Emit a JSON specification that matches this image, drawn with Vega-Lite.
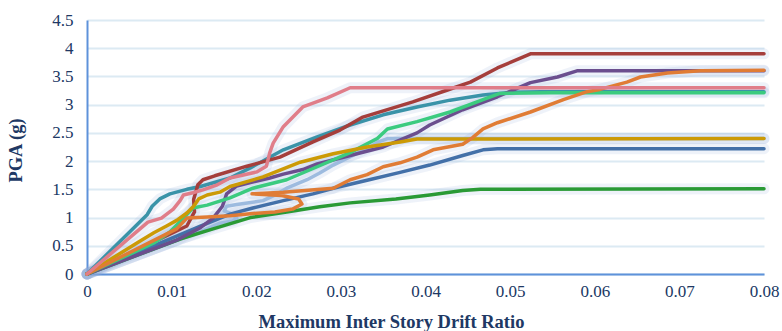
{
  "$schema": "https://vega.github.io/schema/vega-lite/v6.json",
  "width": 677,
  "height": 254,
  "autosize": {"type": "none"},
  "padding": {"left": 87, "top": 20, "right": 18, "bottom": 57},
  "background": "white",
  "config": {"view": {"stroke": null}, "font": "Liberation Serif"},
  "datasets": {
    "curves": [
      {"s":"J","o":0,"x":0,"y":0},{"s":"J","o":1,"x":0.0134,"y":0.75},{"s":"J","o":2,"x":0.0157,"y":0.9},{"s":"J","o":3,"x":0.0172,"y":0.94},{"s":"J","o":4,"x":0.0177,"y":0.99},{"s":"J","o":5,"x":0.0172,"y":1.06},{"s":"J","o":6,"x":0.0162,"y":1.12},{"s":"J","o":7,"x":0.0165,"y":1.2},{"s":"J","o":8,"x":0.0177,"y":1.23},{"s":"J","o":9,"x":0.0208,"y":1.3},{"s":"J","o":10,"x":0.0225,"y":1.42},{"s":"J","o":11,"x":0.0236,"y":1.52},{"s":"J","o":12,"x":0.026,"y":1.67},{"s":"J","o":13,"x":0.0275,"y":1.79},{"s":"J","o":14,"x":0.0291,"y":1.93},{"s":"J","o":15,"x":0.0311,"y":2.08},{"s":"J","o":16,"x":0.0331,"y":2.22},{"s":"J","o":17,"x":0.0343,"y":2.33},{"s":"J","o":18,"x":0.0355,"y":2.4},{"s":"J","o":19,"x":0.08,"y":2.4},
      {"s":"I","o":0,"x":0,"y":0},{"s":"I","o":1,"x":0.011,"y":0.62},{"s":"I","o":2,"x":0.0149,"y":0.8},{"s":"I","o":3,"x":0.0193,"y":1.0},{"s":"I","o":4,"x":0.0236,"y":1.1},{"s":"I","o":5,"x":0.0275,"y":1.19},{"s":"I","o":6,"x":0.0311,"y":1.26},{"s":"I","o":7,"x":0.0365,"y":1.33},{"s":"I","o":8,"x":0.0405,"y":1.4},{"s":"I","o":9,"x":0.0444,"y":1.48},{"s":"I","o":10,"x":0.0465,"y":1.5},{"s":"I","o":11,"x":0.08,"y":1.51},
      {"s":"H","o":0,"x":0,"y":0},{"s":"H","o":1,"x":0.0134,"y":0.85},{"s":"H","o":2,"x":0.0169,"y":1.06},{"s":"H","o":3,"x":0.0196,"y":1.17},{"s":"H","o":4,"x":0.0232,"y":1.3},{"s":"H","o":5,"x":0.0267,"y":1.42},{"s":"H","o":6,"x":0.0291,"y":1.52},{"s":"H","o":7,"x":0.0331,"y":1.66},{"s":"H","o":8,"x":0.037,"y":1.8},{"s":"H","o":9,"x":0.0405,"y":1.93},{"s":"H","o":10,"x":0.0444,"y":2.1},{"s":"H","o":11,"x":0.0468,"y":2.2},{"s":"H","o":12,"x":0.0485,"y":2.22},{"s":"H","o":13,"x":0.08,"y":2.22},
      {"s":"B","o":0,"x":0,"y":0},{"s":"B","o":1,"x":0.0071,"y":1.05},{"s":"B","o":2,"x":0.0077,"y":1.2},{"s":"B","o":3,"x":0.0086,"y":1.33},{"s":"B","o":4,"x":0.0098,"y":1.42},{"s":"B","o":5,"x":0.0118,"y":1.5},{"s":"B","o":6,"x":0.0134,"y":1.55},{"s":"B","o":7,"x":0.0169,"y":1.7},{"s":"B","o":8,"x":0.0193,"y":1.88},{"s":"B","o":9,"x":0.0232,"y":2.2},{"s":"B","o":10,"x":0.0272,"y":2.43},{"s":"B","o":11,"x":0.0311,"y":2.64},{"s":"B","o":12,"x":0.035,"y":2.82},{"s":"B","o":13,"x":0.039,"y":2.96},{"s":"B","o":14,"x":0.0429,"y":3.08},{"s":"B","o":15,"x":0.0468,"y":3.17},{"s":"B","o":16,"x":0.0504,"y":3.22},{"s":"B","o":17,"x":0.0536,"y":3.23},{"s":"B","o":18,"x":0.08,"y":3.23},
      {"s":"F","o":0,"x":0,"y":0},{"s":"F","o":1,"x":0.0106,"y":0.6},{"s":"F","o":2,"x":0.0134,"y":0.82},{"s":"F","o":3,"x":0.0149,"y":0.99},{"s":"F","o":4,"x":0.016,"y":1.2},{"s":"F","o":5,"x":0.0165,"y":1.42},{"s":"F","o":6,"x":0.0177,"y":1.56},{"s":"F","o":7,"x":0.0193,"y":1.62},{"s":"F","o":8,"x":0.0216,"y":1.7},{"s":"F","o":9,"x":0.0232,"y":1.77},{"s":"F","o":10,"x":0.0255,"y":1.85},{"s":"F","o":11,"x":0.0272,"y":1.95},{"s":"F","o":12,"x":0.0311,"y":2.1},{"s":"F","o":13,"x":0.035,"y":2.25},{"s":"F","o":14,"x":0.039,"y":2.5},{"s":"F","o":15,"x":0.0405,"y":2.64},{"s":"F","o":16,"x":0.0444,"y":2.91},{"s":"F","o":17,"x":0.0485,"y":3.14},{"s":"F","o":18,"x":0.0524,"y":3.39},{"s":"F","o":19,"x":0.0556,"y":3.49},{"s":"F","o":20,"x":0.0579,"y":3.6},{"s":"F","o":21,"x":0.08,"y":3.6},
      {"s":"A","o":0,"x":0,"y":0},{"s":"A","o":1,"x":0.0118,"y":0.85},{"s":"A","o":2,"x":0.0127,"y":1.1},{"s":"A","o":3,"x":0.0126,"y":1.32},{"s":"A","o":4,"x":0.0131,"y":1.58},{"s":"A","o":5,"x":0.0137,"y":1.67},{"s":"A","o":6,"x":0.0151,"y":1.74},{"s":"A","o":7,"x":0.0189,"y":1.91},{"s":"A","o":8,"x":0.0228,"y":2.07},{"s":"A","o":9,"x":0.0267,"y":2.34},{"s":"A","o":10,"x":0.0299,"y":2.55},{"s":"A","o":11,"x":0.0326,"y":2.78},{"s":"A","o":12,"x":0.0385,"y":3.05},{"s":"A","o":13,"x":0.0426,"y":3.26},{"s":"A","o":14,"x":0.0453,"y":3.4},{"s":"A","o":15,"x":0.0485,"y":3.65},{"s":"A","o":16,"x":0.0524,"y":3.9},{"s":"A","o":17,"x":0.08,"y":3.9},
      {"s":"E","o":0,"x":0,"y":0},{"s":"E","o":1,"x":0.0079,"y":0.55},{"s":"E","o":2,"x":0.0098,"y":0.745},{"s":"E","o":3,"x":0.0114,"y":0.99},{"s":"E","o":4,"x":0.0125,"y":1.17},{"s":"E","o":5,"x":0.0142,"y":1.22},{"s":"E","o":6,"x":0.0169,"y":1.35},{"s":"E","o":7,"x":0.0196,"y":1.52},{"s":"E","o":8,"x":0.0236,"y":1.67},{"s":"E","o":9,"x":0.0272,"y":1.9},{"s":"E","o":10,"x":0.0311,"y":2.15},{"s":"E","o":11,"x":0.0343,"y":2.4},{"s":"E","o":12,"x":0.0355,"y":2.57},{"s":"E","o":13,"x":0.039,"y":2.7},{"s":"E","o":14,"x":0.0429,"y":2.87},{"s":"E","o":15,"x":0.0468,"y":3.09},{"s":"E","o":16,"x":0.0488,"y":3.2},{"s":"E","o":17,"x":0.0547,"y":3.21},{"s":"E","o":18,"x":0.08,"y":3.21},
      {"s":"D","o":0,"x":0,"y":0},{"s":"D","o":1,"x":0.0059,"y":0.55},{"s":"D","o":2,"x":0.0079,"y":0.73},{"s":"D","o":3,"x":0.0094,"y":0.85},{"s":"D","o":4,"x":0.0106,"y":0.95},{"s":"D","o":5,"x":0.0118,"y":1.08},{"s":"D","o":6,"x":0.0126,"y":1.2},{"s":"D","o":7,"x":0.0132,"y":1.33},{"s":"D","o":8,"x":0.0142,"y":1.4},{"s":"D","o":9,"x":0.0157,"y":1.45},{"s":"D","o":10,"x":0.0169,"y":1.55},{"s":"D","o":11,"x":0.0208,"y":1.72},{"s":"D","o":12,"x":0.0252,"y":1.98},{"s":"D","o":13,"x":0.0291,"y":2.13},{"s":"D","o":14,"x":0.0331,"y":2.25},{"s":"D","o":15,"x":0.037,"y":2.34},{"s":"D","o":16,"x":0.039,"y":2.39},{"s":"D","o":17,"x":0.08,"y":2.4},
      {"s":"G","o":0,"x":0,"y":0},{"s":"G","o":1,"x":0.0106,"y":0.8},{"s":"G","o":2,"x":0.0118,"y":0.99},{"s":"G","o":3,"x":0.0142,"y":1.01},{"s":"G","o":4,"x":0.0169,"y":1.03},{"s":"G","o":5,"x":0.0196,"y":1.07},{"s":"G","o":6,"x":0.0222,"y":1.1},{"s":"G","o":7,"x":0.0243,"y":1.15},{"s":"G","o":8,"x":0.0254,"y":1.24},{"s":"G","o":9,"x":0.025,"y":1.33},{"s":"G","o":10,"x":0.023,"y":1.39},{"s":"G","o":11,"x":0.0195,"y":1.42},{"s":"G","o":12,"x":0.0232,"y":1.45},{"s":"G","o":13,"x":0.0291,"y":1.52},{"s":"G","o":14,"x":0.0311,"y":1.67},{"s":"G","o":15,"x":0.0331,"y":1.76},{"s":"G","o":16,"x":0.035,"y":1.9},{"s":"G","o":17,"x":0.037,"y":1.97},{"s":"G","o":18,"x":0.039,"y":2.07},{"s":"G","o":19,"x":0.0409,"y":2.2},{"s":"G","o":20,"x":0.0444,"y":2.3},{"s":"G","o":21,"x":0.0456,"y":2.42},{"s":"G","o":22,"x":0.0468,"y":2.57},{"s":"G","o":23,"x":0.0485,"y":2.68},{"s":"G","o":24,"x":0.0524,"y":2.87},{"s":"G","o":25,"x":0.0563,"y":3.09},{"s":"G","o":26,"x":0.0591,"y":3.23},{"s":"G","o":27,"x":0.0606,"y":3.27},{"s":"G","o":28,"x":0.0638,"y":3.4},{"s":"G","o":29,"x":0.0654,"y":3.49},{"s":"G","o":30,"x":0.0686,"y":3.56},{"s":"G","o":31,"x":0.0725,"y":3.6},{"s":"G","o":32,"x":0.08,"y":3.61},
      {"s":"C","o":0,"x":0,"y":0},{"s":"C","o":1,"x":0.0072,"y":0.92},{"s":"C","o":2,"x":0.0088,"y":0.99},{"s":"C","o":3,"x":0.0102,"y":1.15},{"s":"C","o":4,"x":0.011,"y":1.3},{"s":"C","o":5,"x":0.0114,"y":1.4},{"s":"C","o":6,"x":0.0125,"y":1.44},{"s":"C","o":7,"x":0.0137,"y":1.49},{"s":"C","o":8,"x":0.0154,"y":1.58},{"s":"C","o":9,"x":0.0169,"y":1.7},{"s":"C","o":10,"x":0.0201,"y":1.81},{"s":"C","o":11,"x":0.0212,"y":1.91},{"s":"C","o":12,"x":0.0216,"y":2.15},{"s":"C","o":13,"x":0.022,"y":2.32},{"s":"C","o":14,"x":0.0232,"y":2.61},{"s":"C","o":15,"x":0.0255,"y":2.96},{"s":"C","o":16,"x":0.0284,"y":3.12},{"s":"C","o":17,"x":0.0311,"y":3.3},{"s":"C","o":18,"x":0.08,"y":3.3}
    ]
  },
  "data": {"name": "curves"},
  "encoding": {
    "x": {
      "field": "x", "type": "quantitative",
      "scale": {"domain": [0, 0.08], "nice": false, "zero": true},
      "axis": {
        "values": [0, 0.01, 0.02, 0.03, 0.04, 0.05, 0.06, 0.07, 0.08],
        "labelExpr": "datum.value == 0 ? '0' : format(datum.value, '.2f')",
        "grid": false, "ticks": false,
        "domainColor": "#5E92DA", "domainWidth": 2,
        "labelFont": "Liberation Serif", "labelFontSize": 17, "labelColor": "#203864",
        "labelPadding": 9, "labelFlush": false,
        "title": "Maximum Inter Story Drift Ratio",
        "titleFont": "Liberation Serif", "titleFontSize": 18.5, "titleFontWeight": "bold", "titleColor": "#203864",
        "titleX": 304, "titleY": 38, "titleAnchor": null, "titleAlign": "center", "titleBaseline": "top"
      }
    },
    "y": {
      "field": "y", "type": "quantitative",
      "scale": {"domain": [0, 4.5], "nice": false},
      "axis": {
        "values": [0, 0.5, 1, 1.5, 2, 2.5, 3, 3.5, 4, 4.5],
        "format": "~g",
        "grid": true, "gridColor": "#DCEAF3", "gridWidth": 2,
        "ticks": false,
        "domainColor": "#5E92DA", "domainWidth": 2,
        "labelFont": "Liberation Serif", "labelFontSize": 17, "labelColor": "#203864",
        "labelPadding": 14,
        "title": "PGA (g)",
        "titleFont": "Liberation Serif", "titleFontSize": 18.5, "titleFontWeight": "bold", "titleColor": "#203864",
        "titleX": -72, "titleY": 130, "titleAnchor": null, "titleAlign": "center", "titleBaseline": "middle", "titleAngle": -90
      }
    },
    "order": {"field": "o", "type": "quantitative"},
    "detail": {"field": "s", "type": "nominal"}
  },
  "layer": [
    {
      "mark": {"type": "line", "strokeWidth": 11, "color": "#8FAAD4", "opacity": 0.15, "strokeJoin": "round", "strokeCap": "round"}
    },
    {
      "mark": {"type": "line", "strokeWidth": 3.5, "strokeJoin": "round", "strokeCap": "round"},
      "encoding": {
        "color": {
          "field": "s", "type": "nominal", "legend": null,
          "scale": {
            "domain": ["A", "B", "C", "D", "E", "F", "G", "H", "I", "J"],
            "range": ["#A53E3B", "#3A93A8", "#E07D89", "#CC9A06", "#3BCB7F", "#6B4E8E", "#E07C35", "#4370A8", "#2A9A35", "#9DBBDF"]
          }
        }
      }
    }
  ]
}
